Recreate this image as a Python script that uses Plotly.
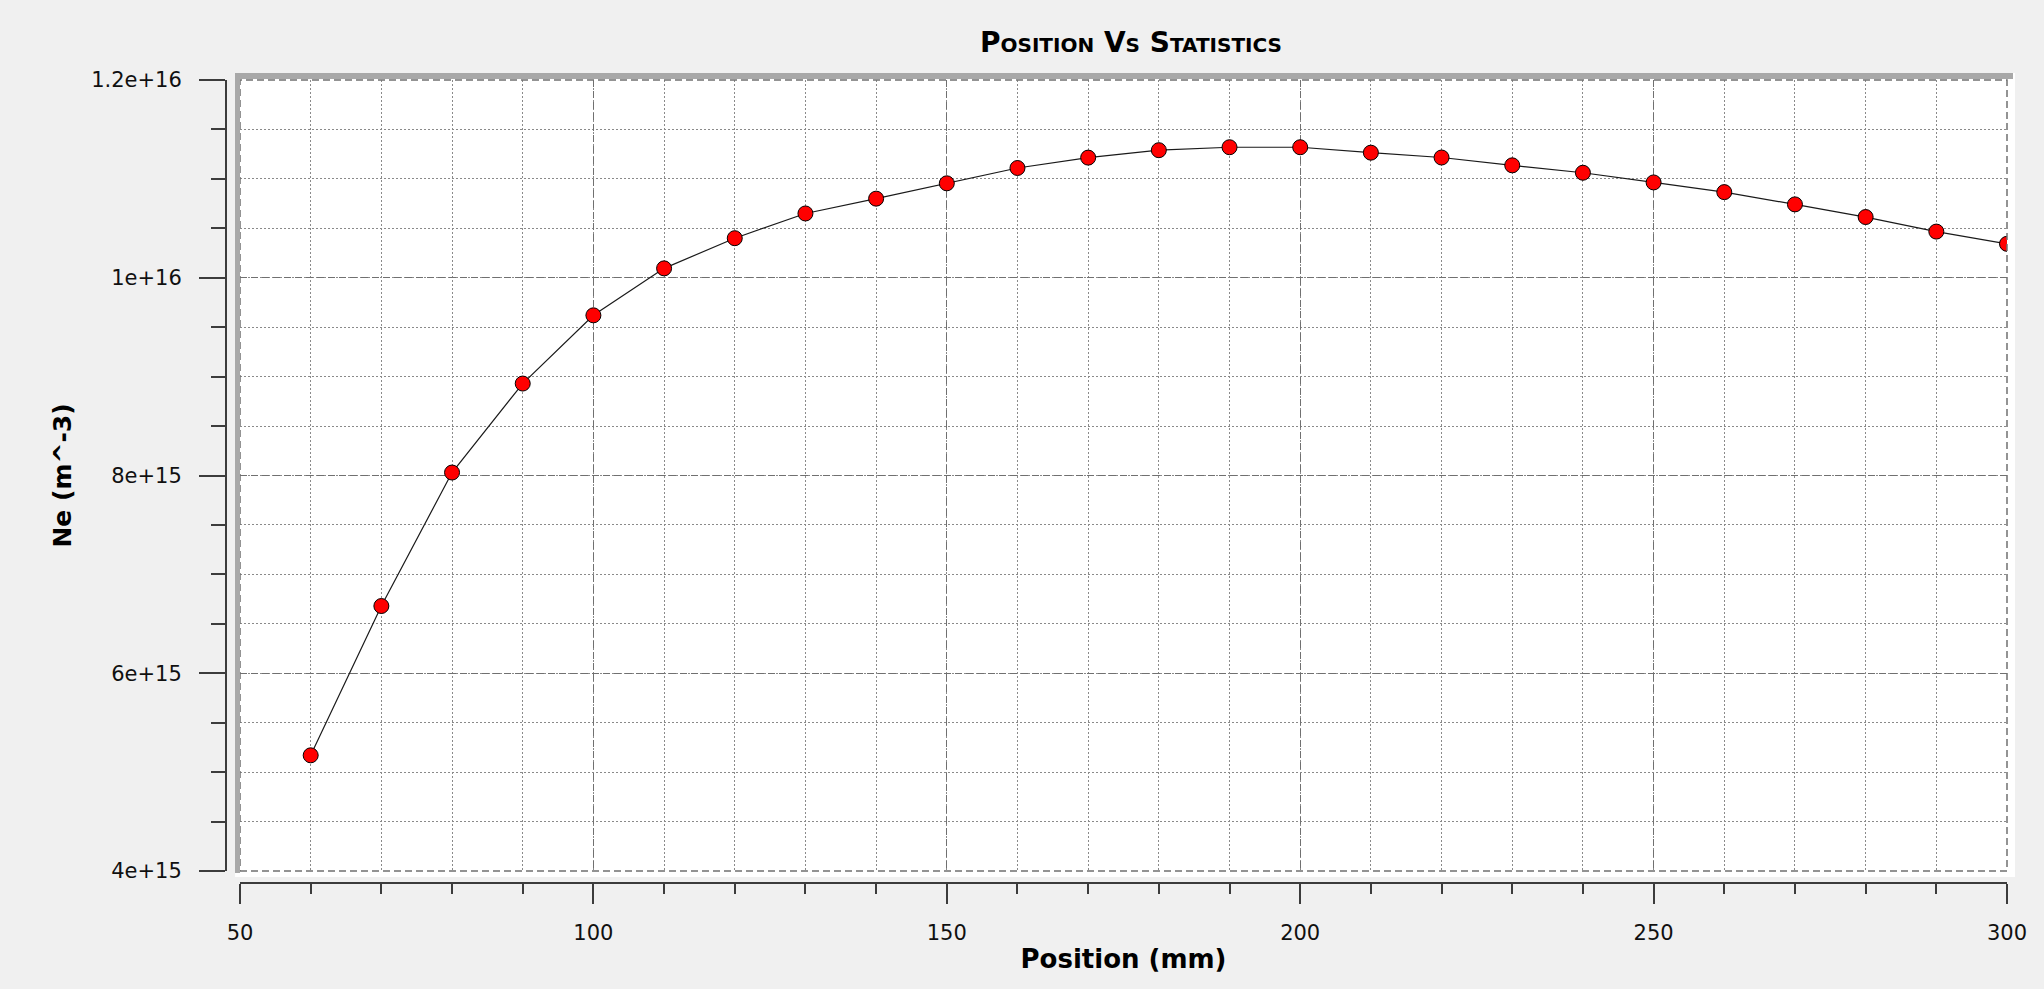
import plotly.graph_objects as go

# ---- data ----
position_mm = [60, 70, 80, 90, 100, 110, 120, 130, 140, 150, 160, 170, 180,
               190, 200, 210, 220, 230, 240, 250, 260, 270, 280, 290, 300]
ne_m3 = [5.17e15, 6.68e15, 8.03e15, 8.93e15, 9.62e15, 1.0095e16, 1.040e16,
         1.065e16, 1.080e16, 1.0955e16, 1.111e16, 1.1215e16, 1.129e16,
         1.132e16, 1.132e16, 1.1265e16, 1.1216e16, 1.1137e16, 1.1062e16,
         1.0964e16, 1.0866e16, 1.0742e16, 1.0614e16, 1.0467e16, 1.0343e16]

x_tick_vals = [50, 100, 150, 200, 250, 300]
x_tick_text = ["50", "100", "150", "200", "250", "300"]
y_tick_vals = [4e15, 6e15, 8e15, 1e16, 1.2e16]
y_tick_text = ["4e+15", "6e+15", "8e+15", "1e+16", "1.2e+16"]

title_text = "Position Vs Statistics"
x_title = "Position (mm)"
y_title = "Ne (m^-3)"

# ---- layout geometry (pixels) ----
W, H = 2044, 989
L, R, T, B = 226, 37, 80, 106          # paper area: x 226..2007, y 80..883
PW, PH = W - L - R, H - T - B


def px(x):
    return (x - L) / PW


def py(y):
    return (H - B - y) / PH


FONT = "DejaVu Sans"
AXIS_COL = "#3c3c3c"
MAJOR_GRID = "#707070"
MINOR_GRID = "#8a8a8a"

fig = go.Figure()
fig.add_trace(go.Scatter(
    x=position_mm, y=ne_m3, mode="lines+markers",
    line=dict(color="#1a1a1a", width=1.2),
    marker=dict(symbol="circle", size=15, color="#ff0000",
                line=dict(color="#000000", width=1)),
    showlegend=False, cliponaxis=True,
))

grid_major = dict(gridcolor=MAJOR_GRID, griddash="7px,4px", gridwidth=1)

fig.update_layout(
    width=W, height=H,
    margin=dict(l=L, r=R, t=T, b=B, pad=0),
    paper_bgcolor="#f0f0f0",
    plot_bgcolor="#ffffff",
    title=dict(text="<b>" + title_text + "</b>",
               font=dict(family=FONT, size=28, color="#000000",
                         variant="small-caps"),
               x=1131 / W, xanchor="center", xref="container",
               y=1 - 42 / H, yanchor="middle", yref="container"),
    xaxis=dict(
        domain=[px(240), 1], anchor="free", position=0,
        range=[50, 300], tickmode="array",
        tickvals=x_tick_vals, ticktext=x_tick_text,
        showline=True, linecolor=AXIS_COL, linewidth=2,
        ticks="outside", ticklen=20, tickwidth=2, tickcolor=AXIS_COL,
        ticklabelstandoff=11,
        tickfont=dict(family=FONT, size=21, color="#101010"),
        showgrid=True, **grid_major, zeroline=False,
        minor=dict(dtick=10, tick0=50, ticks="outside", ticklen=10,
                   tickwidth=2, tickcolor=AXIS_COL, showgrid=True,
                   gridcolor=MINOR_GRID, griddash="2px,2px", gridwidth=1),
        title=dict(text="<b>" + x_title + "</b>", standoff=5,
                   font=dict(family=FONT, size=26, color="#000000")),
        automargin=False,
    ),
    yaxis=dict(
        domain=[py(871), 1], anchor="free", position=0,
        range=[4e15, 1.2e16], tickmode="array",
        tickvals=y_tick_vals, ticktext=y_tick_text,
        showline=True, linecolor=AXIS_COL, linewidth=2,
        ticks="outside", ticklen=26, tickwidth=2, tickcolor=AXIS_COL,
        ticklabelstandoff=13,
        tickfont=dict(family=FONT, size=21, color="#101010"),
        showgrid=True, **grid_major, zeroline=False,
        minor=dict(dtick=0.5e15, tick0=4e15, ticks="outside", ticklen=14,
                   tickwidth=2, tickcolor=AXIS_COL, showgrid=True,
                   gridcolor=MINOR_GRID, griddash="2px,2px", gridwidth=1),
        title=dict(text="<b>" + y_title + "</b>", standoff=11,
                   font=dict(family=FONT, size=25, color="#000000")),
        automargin=False,
    ),
)

# white rim and grey 3-D bevel around the plotting area
fig.add_shape(type="rect", xref="paper", yref="paper", layer="below",
              x0=px(235), x1=px(2015), y0=py(877), y1=py(73),
              fillcolor="#ffffff", line=dict(width=0))
# dashed frame of the plotting area (major-grid style)
fig.add_shape(type="rect", xref="x domain", yref="y domain", layer="above",
              x0=0, x1=1, y0=0, y1=1,
              line=dict(color=MAJOR_GRID, width=1.5, dash="7px,4px"))
fig.add_shape(type="rect", xref="paper", yref="paper", layer="above",
              x0=px(235), x1=px(240), y0=py(873), y1=py(73),
              fillcolor="#a8a8a8", line=dict(width=0))
fig.add_shape(type="rect", xref="paper", yref="paper", layer="above",
              x0=px(235), x1=px(2013), y0=py(79), y1=py(73),
              fillcolor="#a8a8a8", line=dict(width=0))

fig.write_html(
    "out.html",
    config={"displayModeBar": False},
    post_script=("document.body.style.margin='0';"
                 "document.body.style.background='#f0f0f0';"
                 "document.body.style.overflow='hidden';"),
)
